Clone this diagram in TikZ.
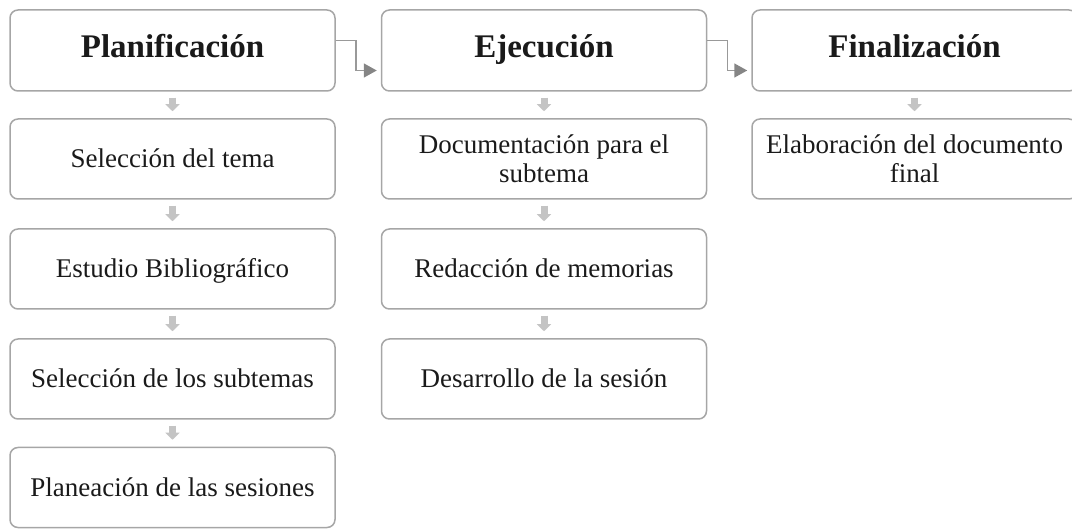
\documentclass[tikz,border=0pt]{standalone}
\usepackage{fontspec}
\setmainfont{Liberation Serif}
\usetikzlibrary{arrows.meta}

\definecolor{boxgray}{HTML}{A6A6A6}
\definecolor{downgray}{HTML}{C4C4C4}
\definecolor{linkgray}{HTML}{999999}
\definecolor{tipgray}{HTML}{858585}
\definecolor{inkgray}{HTML}{1A1A1A}

\tikzset{
    stage/.style={draw=boxgray, line width=1.5pt, rounded corners=8pt,
        minimum width=325pt, minimum height=81pt, text=inkgray,
        text height=22pt, text depth=8pt,
        font=\fontsize{33}{36}\selectfont\bfseries},
    task/.style={stage, minimum height=80pt, align=center,
        text height=19pt, text depth=1pt,
        font=\fontsize{27}{29}\selectfont},
    twoline/.style={task, text height=, text depth=},
    down/.style={draw=downgray, line width=7pt,
        -{Triangle[length=7pt,width=14pt]}, shorten <=6pt, shorten >=7pt},
    link/.style={draw=linkgray, line width=1.5pt,
        -{Triangle[length=13pt,width=14pt,color=tipgray]}, shorten >=4pt}
}

\begin{document}
\begin{tikzpicture}[x=1pt,y=-1pt]
            \clip (0,0) rectangle (1072,529);

            \node[stage] (p0) at (172.5, 50.5) {Planificación};
            \node[task] (p1) at (172.5, 159) {Selección del tema};
            \node[task] (p2) at (172.5, 269) {Estudio Bibliográfico};
            \node[task] (p3) at (172.5, 379) {Selección de los subtemas};
            \node[task] (p4) at (172.5, 487.5) {Planeación de las sesiones};

            \node[stage] (e0) at (544, 50.5) {Ejecución};
            \node[twoline] (e1) at (544, 159) {Documentación para el\\subtema};
            \node[task] (e2) at (544, 269) {Redacción de memorias};
            \node[task] (e3) at (544, 379) {Desarrollo de la sesión};

            \node[stage] (f0) at (914.5, 50.5) {Finalización};
            \node[twoline] (f1) at (914.5, 159) {Elaboración del documento\\final};

            \draw[down] (p0) -- (p1);
            \draw[down] (p1) -- (p2);
            \draw[down] (p2) -- (p3);
            \draw[down] (p3) -- (p4);
            \draw[down] (e0) -- (e1);
            \draw[down] (e1) -- (e2);
            \draw[down] (e2) -- (e3);
            \draw[down] (f0) -- (f1);

            \draw[link] ([yshift=10pt]p0.east) -- ++(20,0) |- ([yshift=-20pt]e0.west);
            \draw[link] ([yshift=10pt]e0.east) -- ++(20,0) |- ([yshift=-20pt]f0.west);
        \end{tikzpicture}
\end{document}
